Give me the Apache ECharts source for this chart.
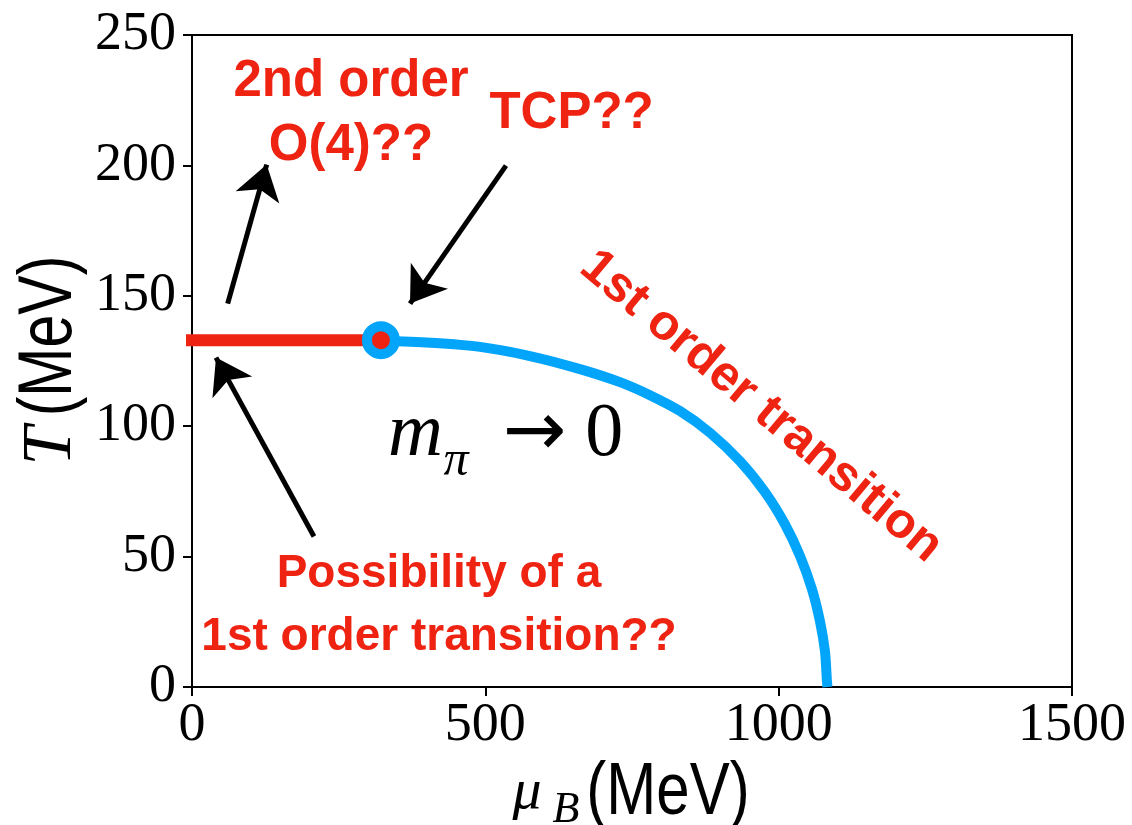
<!DOCTYPE html>
<html><head><meta charset="utf-8">
<script src="https://cdn.jsdelivr.net/npm/echarts@6/dist/echarts.min.js"></script>
<style>html,body{margin:0;padding:0;background:#fff}#c{width:1132px;height:825px}</style>
</head><body><div id="c"></div>
<script>
// ---- data ----
const boundaryMu = [322.1, 405.7, 490.9, 576.1, 661.3, 729.5, 780.6, 831.8, 882.9, 934.0, 976.7, 1010.7, 1036.3, 1056.8, 1070.4, 1078.9, 1082.3, 1083.2];
const boundaryT  = [132.8, 132.0, 130.4, 126.9, 121.9, 116.9, 111.9, 105.8, 97.5, 86.6, 74.7, 62.4, 50.3, 37.5, 25.2, 13.7, 2.2, 0];
const crossoverMu = [0, 322];
const crossoverT  = [133, 133];
const tcpMu = [322];
const tcpT  = [133];
const arrowTailMu = [60.8, 535.2, 207.9];
const arrowTailT  = [147.0, 199.9, 57.7];
const arrowHeadMu = [127.3, 371.6, 40.9];
const arrowHeadT  = [200.3, 147.0, 126.3];
const noteText = ['2nd order\nO(4)??', 'TCP??', '1st order transition', 'Possibility of a\n1st order transition??'];
const noteMu = [271, 647, 970, 421];
const noteT  = [219.6, 219.6, 107.5, 31];
const noteRotate = [0, 0, -40, 0];
const noteSize = [51, 51, 50, 46];
const noteLineHeight = [64, 64, 63, 63];
const mathText = ['{m|m}', '{p|π}', '{a|→}{z| 0}'];
const mathMu = [381.0, 450.0, 632.4];
const mathT  = [96.7, 86.4, 96.7];

const RED = '#EE2312';
const BLUE = '#03A5FB';

const chart = echarts.init(document.getElementById('c'), null, {renderer: 'canvas'});

const zip = (a, b) => a.map((v, i) => [v, b[i]]);
const tickFmt = v => String(v);

const option = {
  backgroundColor: '#fff',
  animation: false,
  grid: {left: 192, right: 60, top: 35, bottom: 138, show: true, borderColor: '#000', borderWidth: 2, backgroundColor: 'transparent', outerBoundsMode: 'none'},
  xAxis: {
    type: 'value', min: 0, max: 1500, interval: 500,
    axisLine: {show: true, onZero: false, lineStyle: {color: '#000', width: 2}},
    axisTick: {show: true, inside: false, length: 9, lineStyle: {color: '#000', width: 2}},
    splitLine: {show: false},
    axisLabel: {show: true, color: '#000', fontFamily: 'Liberation Serif', fontSize: 54, margin: 12, formatter: tickFmt, showMinLabel: true, showMaxLabel: true, hideOverlap: false}
  },
  yAxis: {
    type: 'value', min: 0, max: 250, interval: 50,
    axisLine: {show: true, onZero: false, lineStyle: {color: '#000', width: 2}},
    axisTick: {show: true, inside: false, length: 9, lineStyle: {color: '#000', width: 2}},
    splitLine: {show: false},
    axisLabel: {show: true, color: '#000', fontFamily: 'Liberation Serif', fontSize: 54, margin: 16, formatter: tickFmt, showMinLabel: true, showMaxLabel: true, hideOverlap: false}
  },
  graphic: [
    {type: 'text', x: 527, y: 793, silent: true, style: {text: 'μ', font: 'italic 58px "Liberation Serif"', fill: '#000', textAlign: 'center', textVerticalAlign: 'middle'}},
    {type: 'text', x: 566, y: 810, silent: true, style: {text: 'B', font: 'italic 44px "Liberation Serif"', fill: '#000', textAlign: 'center', textVerticalAlign: 'middle'}},
    {type: 'text', x: 668, y: 794, scaleY: 1.22, silent: true, style: {text: '(MeV)', font: '60px "Liberation Sans"', fill: '#000', textAlign: 'center', textVerticalAlign: 'middle'}},
    {type: 'text', x: 52, y: 446, rotation: Math.PI / 2, silent: true, style: {text: 'T', font: 'italic 70px "Liberation Serif"', fill: '#000', textAlign: 'center', textVerticalAlign: 'middle'}},
    {type: 'text', x: 50, y: 336, rotation: Math.PI / 2, scaleY: 1.3, silent: true, style: {text: '(MeV)', font: '59px "Liberation Sans"', fill: '#000', textAlign: 'center', textVerticalAlign: 'middle'}}
  ],
  series: [
    {
      name: 'crossover', type: 'line', data: zip(crossoverMu, crossoverT), symbol: 'none', clip: false, z: 3,
      lineStyle: {color: RED, width: 12, cap: 'square'}
    },
    {
      name: 'boundary', type: 'line', data: zip(boundaryMu, boundaryT), symbol: 'none', smooth: 0.3, clip: false, z: 3,
      lineStyle: {color: BLUE, width: 10, cap: 'butt'}
    },
    {
      name: 'TCP', type: 'scatter', data: zip(tcpMu, tcpT), symbol: 'circle', symbolSize: 28, z: 5,
      itemStyle: {color: RED, borderColor: BLUE, borderWidth: 10, opacity: 1}
    },
    {
      name: 'arrows', type: 'lines', coordinateSystem: 'cartesian2d', z: 6,
      data: arrowTailMu.map((m, i) => ({coords: [[m, arrowTailT[i]], [arrowHeadMu[i], arrowHeadT[i]]]})),
      symbol: ['none', 'arrow'], symbolSize: [30, 34],
      lineStyle: {color: '#000', width: 5, opacity: 1, curveness: 0},
      itemStyle: {color: '#000'}
    },
    {
      name: 'notes', type: 'scatter', symbolSize: 0.1, z: 7, silent: true,
      itemStyle: {color: 'transparent', opacity: 1},
      emphasis: {disabled: true},
      data: noteText.map((t, i) => ({name: t, value: [noteMu[i], noteT[i]], label: {rotate: noteRotate[i], fontSize: noteSize[i], lineHeight: noteLineHeight[i]}})),
      label: {show: true, position: 'inside', formatter: '{b}', color: RED, opacity: 1, fontFamily: 'Liberation Sans', fontWeight: 'bold', fontSize: 46, lineHeight: 63, align: 'center', verticalAlign: 'middle'},
      labelLayout: {hideOverlap: false}
    },
    {
      name: 'math', type: 'scatter', symbolSize: 0.1, z: 7, silent: true,
      itemStyle: {color: 'transparent', opacity: 1},
      emphasis: {disabled: true},
      data: mathText.map((t, i) => ({name: t, value: [mathMu[i], mathT[i]]})),
      label: {
        show: true, position: 'inside', align: 'center', verticalAlign: 'middle', formatter: '{b}', opacity: 1,
        rich: {
          m: {fontFamily: 'Liberation Serif', fontStyle: 'italic', fontSize: 76, color: '#000'},
          p: {fontFamily: 'Liberation Serif', fontStyle: 'italic', fontSize: 50, color: '#000'},
          a: {fontFamily: 'DejaVu Sans', fontSize: 76, lineHeight: 80, color: '#000'},
          z: {fontFamily: 'Liberation Serif', fontSize: 76, lineHeight: 80, color: '#000'}
        }
      },
      labelLayout: {hideOverlap: false}
    }
  ]
};
chart.setOption(option);
</script>
</body></html>
